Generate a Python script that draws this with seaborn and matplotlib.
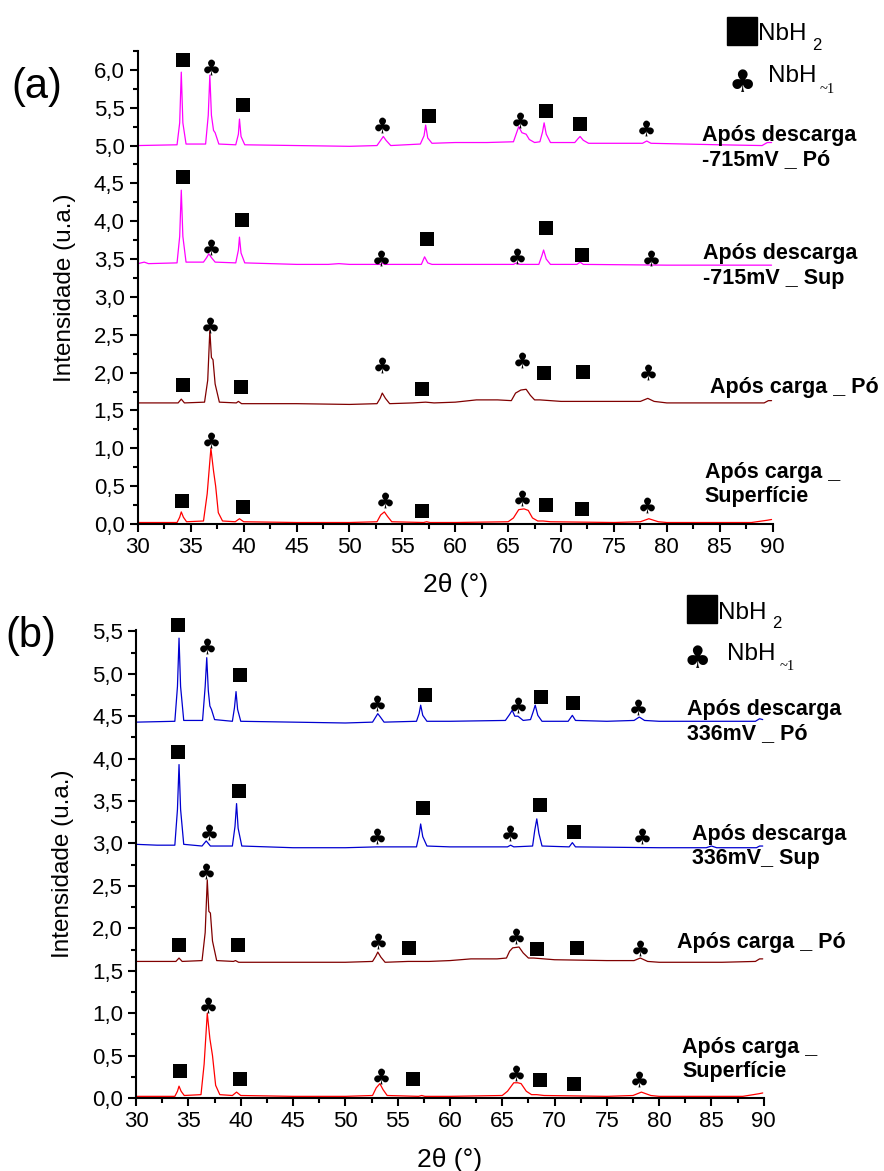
import pandas as pd
import matplotlib.pyplot as plt
import seaborn as sns
from matplotlib.patches import Rectangle
from matplotlib.ticker import FuncFormatter, MultipleLocator

# ---- panel (a) traces: (2theta, intensity) points ----
a1_x = [30, 33.7, 33.95, 34.1, 34.25, 34.55, 36.4, 36.65, 36.8, 36.95, 37.15, 37.3, 37.65,
        39.25, 39.5, 39.6, 39.75, 40.1, 45, 50, 52.6, 53.0, 53.2, 53.45, 53.9,
        56.7, 57.05, 57.2, 57.4, 57.8, 60, 63, 65.5, 65.8, 66.0, 66.3, 66.7, 67.0, 67.5,
        68.0, 68.25, 68.4, 68.6, 69.0, 71.3, 71.6, 71.8, 72.1, 72.6,
        75, 77.7, 78.1, 78.5, 85, 89.0, 89.5, 89.9]
a1_y = [5.00, 5.01, 5.30, 5.97, 5.30, 5.02, 5.02, 5.40, 5.93, 5.40, 5.20, 5.17, 5.02,
        5.01, 5.15, 5.35, 5.12, 5.01, 5.00, 4.99, 5.00, 5.08, 5.12, 5.07, 5.00,
        5.02, 5.13, 5.27, 5.10, 5.03, 5.04, 5.04, 5.05, 5.17, 5.25, 5.17, 5.15, 5.08, 5.04,
        5.05, 5.18, 5.30, 5.15, 5.04, 5.04, 5.09, 5.12, 5.07, 5.03,
        5.03, 5.03, 5.06, 5.03, 5.01, 5.00, 5.04, 5.04]

a2_x = [30, 30.6, 31, 33.7, 33.95, 34.1, 34.25, 34.55, 36.2, 36.5, 36.7, 36.95, 37.3,
        39.25, 39.5, 39.6, 39.75, 40.1, 45, 48, 49, 50, 53, 53.1, 53.3,
        56.8, 57.1, 57.4, 57.8, 60, 65.5, 65.8, 66.1,
        67.9, 68.2, 68.35, 68.6, 69.0, 71.5, 71.8, 72.1, 80, 89.9]
a2_y = [3.44, 3.46, 3.44, 3.45, 3.80, 4.41, 3.80, 3.46, 3.46, 3.52, 3.57, 3.52, 3.46,
        3.45, 3.62, 3.79, 3.58, 3.45, 3.43, 3.43, 3.44, 3.43, 3.43, 3.45, 3.43,
        3.43, 3.53, 3.45, 3.43, 3.43, 3.43, 3.45, 3.43,
        3.43, 3.55, 3.62, 3.50, 3.43, 3.43, 3.46, 3.43, 3.42, 3.42]

a3_x = [30, 33.8, 34.1, 34.4, 36.3, 36.6, 36.8, 36.95, 37.1, 37.3, 37.7,
        39.3, 39.5, 39.8, 45, 50, 52.6, 52.9, 53.1, 53.4, 53.8,
        56.0, 57.2, 58, 60, 62, 64, 65.3, 65.7, 66.2, 66.7, 67.1, 67.5,
        68.0, 70, 75, 77.5, 78.2, 78.8, 80, 86, 89.2, 89.6, 89.9]
a3_y = [1.60, 1.60, 1.65, 1.60, 1.61, 1.90, 2.56, 2.20, 2.17, 1.85, 1.61,
        1.60, 1.62, 1.59, 1.59, 1.58, 1.59, 1.66, 1.73, 1.66, 1.59,
        1.60, 1.61, 1.60, 1.61, 1.64, 1.64, 1.63, 1.73, 1.77, 1.78, 1.70, 1.64,
        1.64, 1.62, 1.62, 1.62, 1.66, 1.62, 1.60, 1.60, 1.60, 1.63, 1.63]

a4_x = [30, 33.7, 33.95, 34.1, 34.3, 34.6, 36.2, 36.55, 36.9, 37.15, 37.35, 37.6, 38.0,
        39.2, 39.6, 40.0, 45, 50, 52.6, 52.95, 53.3, 53.6, 54.0,
        57.0, 57.3, 57.6, 60, 65, 65.5, 66.0, 66.5, 66.9, 67.3, 67.8,
        68.3, 69, 75, 77.5, 78.3, 79.2, 80, 88, 89.5, 89.9]
a4_y = [0.02, 0.02, 0.09, 0.16, 0.09, 0.03, 0.04, 0.40, 1.00, 0.70, 0.50, 0.15, 0.04,
        0.03, 0.07, 0.03, 0.02, 0.02, 0.03, 0.12, 0.16, 0.10, 0.03,
        0.02, 0.03, 0.02, 0.02, 0.03, 0.08, 0.19, 0.20, 0.18, 0.08, 0.04,
        0.04, 0.03, 0.02, 0.03, 0.07, 0.03, 0.02, 0.02, 0.05, 0.06]

# ---- panel (b) traces ----
b1_x = [30, 33.7, 33.95, 34.1, 34.25, 34.55, 36.35, 36.6, 36.75, 36.9, 37.05, 37.2, 37.5,
        39.2, 39.4, 39.55, 39.7, 40.0, 45, 50, 52.6, 52.9, 53.1, 53.35, 53.7,
        56.8, 57.05, 57.2, 57.4, 57.8, 60, 65.3, 65.7, 65.95, 66.2, 66.5, 67.0,
        67.7, 67.95, 68.15, 68.4, 68.8, 71.3, 71.7, 72.0, 75, 77.6, 78.1, 78.6,
        80, 85, 89.2, 89.6, 89.9]
b1_y = [4.43, 4.44, 4.85, 5.42, 4.85, 4.45, 4.45, 4.85, 5.19, 4.80, 4.62, 4.58, 4.46,
        4.44, 4.60, 4.79, 4.58, 4.44, 4.43, 4.42, 4.43, 4.49, 4.53, 4.49, 4.43,
        4.44, 4.53, 4.63, 4.51, 4.44, 4.44, 4.45, 4.52, 4.57, 4.50, 4.50, 4.45,
        4.46, 4.55, 4.63, 4.51, 4.44, 4.44, 4.51, 4.45, 4.44, 4.45, 4.49, 4.45,
        4.44, 4.44, 4.44, 4.47, 4.46]

b2_x = [30, 32, 33.7, 33.95, 34.1, 34.25, 34.55, 36.3, 36.7, 37.1,
        39.2, 39.45, 39.6, 39.75, 40.1, 45, 50, 53, 56.8, 57.05, 57.2, 57.4, 57.8,
        60, 65.5, 65.8, 66.1, 67.9, 68.1, 68.3, 68.5, 68.8,
        71.4, 71.7, 72.0, 80, 84.5, 85, 85.5, 89.3, 89.6, 89.9]
b2_y = [2.99, 2.98, 2.98, 3.40, 3.93, 3.40, 2.99, 2.97, 3.03, 2.97,
        2.97, 3.20, 3.47, 3.18, 2.97, 2.95, 2.95, 2.96, 2.96, 3.10, 3.23, 3.08, 2.97,
        2.96, 2.96, 2.98, 2.96, 2.97, 3.15, 3.29, 3.12, 2.97,
        2.96, 3.01, 2.96, 2.95, 2.95, 2.97, 2.95, 2.95, 2.97, 2.97]

b3_x = [30, 33.8, 34.1, 34.4, 36.3, 36.6, 36.8, 36.95, 37.1, 37.3, 37.7,
        39.3, 39.5, 39.8, 45, 50, 52.6, 52.9, 53.1, 53.4, 53.8,
        56.0, 57.2, 58, 60, 62, 64.5, 65.4, 65.7, 66.0, 66.6, 67.0, 67.5,
        68.0, 70, 75, 77.6, 78.2, 78.9, 80, 86, 89.2, 89.6, 89.9]
b3_y = [1.61, 1.61, 1.65, 1.61, 1.62, 1.95, 2.57, 2.20, 2.18, 1.85, 1.62,
        1.61, 1.62, 1.60, 1.60, 1.60, 1.61, 1.67, 1.72, 1.66, 1.60,
        1.61, 1.61, 1.61, 1.62, 1.64, 1.64, 1.65, 1.73, 1.77, 1.78, 1.71, 1.65,
        1.65, 1.63, 1.62, 1.62, 1.65, 1.61, 1.60, 1.60, 1.61, 1.64, 1.64]

b4_x = [30, 33.7, 33.95, 34.1, 34.3, 34.6, 36.2, 36.5, 36.8, 37.05, 37.3, 37.6, 38.0,
        39.2, 39.6, 40.0, 45, 50, 52.6, 52.95, 53.3, 53.6, 54.0,
        57.0, 57.3, 57.6, 60, 65, 65.5, 66.1, 66.5, 66.8, 67.3, 67.8,
        68.3, 69, 75, 77.5, 78.3, 79.2, 80, 88, 89.5, 89.9]
b4_y = [0.02, 0.02, 0.08, 0.14, 0.08, 0.03, 0.04, 0.40, 1.00, 0.70, 0.50, 0.15, 0.04,
        0.03, 0.07, 0.03, 0.02, 0.02, 0.03, 0.12, 0.17, 0.10, 0.03,
        0.02, 0.03, 0.02, 0.02, 0.03, 0.08, 0.18, 0.18, 0.17, 0.08, 0.04,
        0.04, 0.03, 0.02, 0.03, 0.07, 0.03, 0.02, 0.02, 0.05, 0.06]

# ---- phase markers (NbH2 = square, NbH~1 = club) ----
a_sq_x = [34.3, 39.9, 57.5, 68.6, 71.8, 34.3, 39.8, 57.3, 68.6, 72.0,
          34.3, 39.7, 56.9, 68.4, 72.1, 34.2, 39.9, 56.9, 68.6, 72.0]
a_sq_y = [6.13, 5.53, 5.39, 5.45, 5.29, 4.58, 4.02, 3.76, 3.91, 3.55,
          1.84, 1.81, 1.78, 1.99, 2.01, 0.30, 0.23, 0.17, 0.25, 0.20]
a_cl_x = [36.9, 53.1, 66.1, 78.0, 36.9, 53.0, 65.8, 78.5,
          36.8, 53.1, 66.3, 78.2, 36.9, 53.4, 66.3, 78.1]
a_cl_y = [6.04, 5.27, 5.34, 5.23, 3.66, 3.52, 3.54, 3.52,
          2.63, 2.10, 2.17, 2.01, 1.11, 0.32, 0.34, 0.25]

b_sq_x = [34.0, 39.9, 57.6, 68.7, 71.75, 34.0, 39.8, 57.4, 68.6, 71.85,
          34.1, 39.7, 56.1, 68.3, 72.1, 34.2, 39.9, 56.5, 68.6, 71.85]
b_sq_y = [5.58, 4.98, 4.75, 4.73, 4.65, 4.08, 3.62, 3.42, 3.45, 3.14,
          1.80, 1.80, 1.77, 1.76, 1.77, 0.32, 0.23, 0.23, 0.21, 0.17]
b_cl_x = [36.8, 53.0, 66.5, 78.0, 37.0, 53.0, 65.7, 78.4,
          36.7, 53.1, 66.3, 78.2, 36.9, 53.4, 66.3, 78.1]
b_cl_y = [5.33, 4.65, 4.63, 4.61, 3.13, 3.09, 3.12, 3.09,
          2.67, 1.85, 1.91, 1.77, 1.10, 0.26, 0.29, 0.22]

labels_a = ["Após descarga\n-715mV _ Pó", "Após descarga\n-715mV _ Sup",
            "Após carga _ Pó", "Após carga _\nSuperfície"]
labels_b = ["Após descarga\n336mV _ Pó", "Após descarga\n336mV_ Sup",
            "Após carga _ Pó", "Após carga _\nSuperfície"]
colors_a = ["#ff00ff", "#ff00ff", "#800000", "#ff0000"]
colors_b = ["#0000d0", "#0000d0", "#800000", "#ff0000"]

sns.set_style("ticks")
plt.rcParams["font.family"] = ["Liberation Sans", "DejaVu Sans"]
plt.rcParams.update({"text.color": "black", "axes.labelcolor": "black",
                     "xtick.color": "black", "ytick.color": "black",
                     "axes.edgecolor": "black"})

fig = plt.figure(figsize=(8.84, 11.71), dpi=100)
ax_a = fig.add_axes([0.156, 0.5525, 0.718, 0.404])
ax_b = fig.add_axes([0.154, 0.0623, 0.710, 0.400])


def draw_panel(ax, traces, colors, labels, sq, cl, lab_pos, ylim):
    frames = []
    for i, (xs, ys) in enumerate(traces):
        frames.append(pd.DataFrame({"x": xs, "y": ys, "trace": labels[i]}))
    df = pd.concat(frames)
    sns.lineplot(data=df, x="x", y="y", hue="trace", palette=dict(zip(labels, colors)),
                 estimator=None, sort=False, linewidth=0.9, legend=False, ax=ax)
    sns.scatterplot(x=sq[0], y=sq[1], marker="s", color="black", s=90, linewidth=0, ax=ax,
                    clip_on=False, zorder=5)
    sns.scatterplot(x=cl[0], y=cl[1], marker="$\u2663$", color="black", s=130, linewidth=0,
                    ax=ax, clip_on=False, zorder=5)
    for text, (tx, ty) in zip(labels, lab_pos):
        ax.text(tx, ty, text, fontsize=15.5, fontweight="bold", ha="left", va="center",
                linespacing=1.2, clip_on=False)

    ax.set_xlim(30, 90)
    ax.set_ylim(*ylim)
    ax.xaxis.set_major_locator(MultipleLocator(5))
    ax.xaxis.set_minor_locator(MultipleLocator(2.5))
    ax.yaxis.set_major_locator(MultipleLocator(0.5))
    ax.yaxis.set_minor_locator(MultipleLocator(0.25))
    ax.yaxis.set_major_formatter(FuncFormatter(lambda v, _: f"{v:.1f}".replace(".", ",")))
    ax.tick_params(which="major", length=6, width=1.5, labelsize=16, direction="out")
    ax.tick_params(which="minor", length=3.5, width=1.5, direction="out")
    for side in ["left", "bottom"]:
        ax.spines[side].set_linewidth(1.5)
    sns.despine(ax=ax)
    ax.set_xlabel("2\u03b8 (\u00b0)", fontsize=19, labelpad=11)
    ax.set_ylabel("Intensidade (u.a.)", fontsize=17.5, labelpad=13)


draw_panel(ax_a, [(a1_x, a1_y), (a2_x, a2_y), (a3_x, a3_y), (a4_x, a4_y)],
           colors_a, labels_a, (a_sq_x, a_sq_y), (a_cl_x, a_cl_y),
           [(83.3, 4.97), (83.4, 3.41), (84.1, 1.80), (83.6, 0.52)], (0, 6.25))
draw_panel(ax_b, [(b1_x, b1_y), (b2_x, b2_y), (b3_x, b3_y), (b4_x, b4_y)],
           colors_b, labels_b, (b_sq_x, b_sq_y), (b_cl_x, b_cl_y),
           [(82.7, 4.44), (83.1, 2.96), (81.7, 1.83), (82.2, 0.45)], (0, 5.52))

# legends drawn by hand, as in the original figure
for sqx, sqy, nx, ny, s2x, s2y, cx, cy, n2x, n2y, sbx, sby in [
        (0.8224, 0.9616, 0.8575, 0.9658, 0.9186, 0.9573, 0.8394, 0.9283, 0.8688, 0.9300, 0.9276, 0.9206),
        (0.7771, 0.4680, 0.8122, 0.4714, 0.8733, 0.4637, 0.7885, 0.4364, 0.8224, 0.4364, 0.8824, 0.4278)]:
    fig.patches.append(Rectangle((sqx, sqy), 0.0339, 0.0239, transform=fig.transFigure,
                                 color="black", figure=fig))
    fig.text(nx, ny, "NbH", fontsize=17.5, va="baseline")
    fig.text(s2x, s2y, "2", fontsize=12, va="baseline")
    fig.text(cx, cy, "\u2663", fontsize=22, ha="center", va="center", family="DejaVu Sans")
    fig.text(n2x, n2y, "NbH", fontsize=17.5, va="baseline")
    fig.text(sbx, sby, "~1", fontsize=10.5, va="baseline", family="Liberation Serif")

fig.text(0.042, 0.9257, "(a)", fontsize=30, ha="center", va="center")
fig.text(0.035, 0.4569, "(b)", fontsize=30, ha="center", va="center")

plt.savefig("out.png", dpi=100)
